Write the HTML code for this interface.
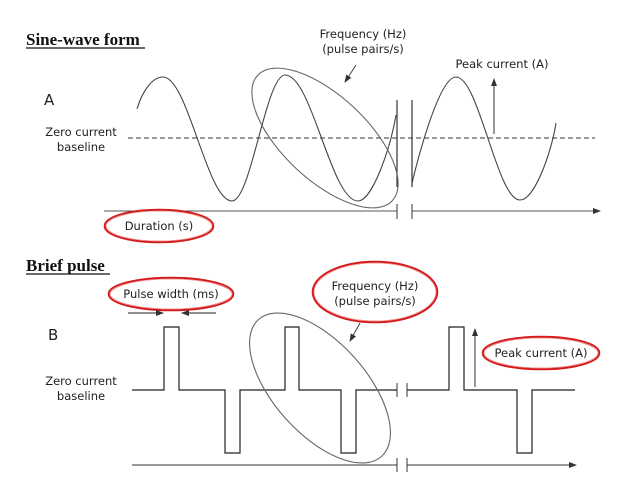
<!DOCTYPE html>
<html><head><meta charset="utf-8"><style>
html,body{margin:0;padding:0;background:#fff;}
svg{display:block;}
.t{font-family:"DejaVu Sans","Liberation Sans",sans-serif;font-size:11.5px;fill:#222;}
.h{font-family:"Liberation Serif",serif;font-weight:bold;font-size:17px;fill:#111;}
.red{fill:none;stroke:#d41a1a;stroke-width:2.6;}
.redi{fill:none;stroke:#f29a9a;stroke-width:0.8;}
</style></head><body>
<svg width="638" height="479" viewBox="0 0 638 479" xmlns="http://www.w3.org/2000/svg">
<defs><marker id="ar" markerWidth="8" markerHeight="6" refX="7" refY="3" orient="auto"><path d="M0,0 L8,3 L0,6 z" fill="#333"/></marker></defs>
<text x="26" y="45" class="h">Sine-wave form</text>
<line x1="26" y1="48" x2="145" y2="48" stroke="#111" stroke-width="1.3"/>
<text x="44" y="105" class="t" style="font-size:15px">A</text>
<text x="81" y="136" class="t" text-anchor="middle">Zero current</text>
<text x="81" y="151" class="t" text-anchor="middle">baseline</text>
<line x1="128" y1="138" x2="595" y2="138" stroke="#333" stroke-width="1" stroke-dasharray="5,3"/>
<path d="M137,109 C142,92 152,77 163,77 C188,77 207,201 232,201 C251,201 266,75 285,75 C312,75 331,201 358,201 C372,201 390,150 396,115" fill="none" stroke="#444" stroke-width="1.1"/>
<path d="M412,183 C420,150 440,77 456,77 C479,77 497,200 520,200 C535,200 552,150 556,123" fill="none" stroke="#444" stroke-width="1.1"/>
<line x1="397" y1="100" x2="397" y2="187" stroke="#333" stroke-width="1.2"/>
<line x1="412" y1="100" x2="412" y2="187" stroke="#333" stroke-width="1.2"/>
<ellipse cx="325" cy="138" rx="92" ry="42" transform="rotate(43 325 138)" fill="none" stroke="#666" stroke-width="1.1"/>
<text x="363" y="38" class="t" text-anchor="middle">Frequency (Hz)</text>
<text x="363" y="53" class="t" text-anchor="middle">(pulse pairs/s)</text>
<line x1="356" y1="65" x2="345" y2="82" stroke="#444" stroke-width="1" marker-end="url(#ar)"/>
<text x="502" y="68" class="t" text-anchor="middle">Peak current (A)</text>
<line x1="494" y1="134" x2="494" y2="79" stroke="#333" stroke-width="1" marker-end="url(#ar)"/>
<line x1="104" y1="211" x2="397" y2="211" stroke="#555" stroke-width="1"/>
<line x1="412" y1="211" x2="600" y2="211" stroke="#555" stroke-width="1" marker-end="url(#ar)"/>
<line x1="397" y1="204" x2="397" y2="219" stroke="#333" stroke-width="1"/>
<line x1="412" y1="204" x2="412" y2="219" stroke="#333" stroke-width="1"/>
<ellipse cx="159" cy="226" rx="54" ry="16" class="red"/><ellipse cx="159" cy="226" rx="53" ry="15" class="redi"/>
<text x="159" y="230" class="t" text-anchor="middle">Duration (s)</text>

<text x="26" y="271" class="h">Brief pulse</text>
<line x1="26" y1="274" x2="110" y2="274" stroke="#111" stroke-width="1.3"/>
<text x="48" y="340" class="t" style="font-size:15px">B</text>
<text x="81" y="385" class="t" text-anchor="middle">Zero current</text>
<text x="81" y="400" class="t" text-anchor="middle">baseline</text>
<path d="M132,390 H164 V327 H179 V390 H225 V453 H240 V390 H285 V327 H299 V390 H341 V453 H356 V390 H397" fill="none" stroke="#222" stroke-width="1.2"/>
<path d="M407,390 H449 V327 H464 V390 H517 V453 H532 V390 H575" fill="none" stroke="#222" stroke-width="1.2"/>
<line x1="397" y1="383" x2="397" y2="397" stroke="#333" stroke-width="1"/>
<line x1="407" y1="383" x2="407" y2="397" stroke="#333" stroke-width="1"/>
<line x1="132" y1="465" x2="397" y2="465" stroke="#333" stroke-width="1"/>
<line x1="407" y1="465" x2="576" y2="465" stroke="#333" stroke-width="1" marker-end="url(#ar)"/>
<line x1="397" y1="458" x2="397" y2="472" stroke="#333" stroke-width="1"/>
<line x1="407" y1="458" x2="407" y2="472" stroke="#333" stroke-width="1"/>
<ellipse cx="320" cy="388" rx="92" ry="46" transform="rotate(48 320 388)" fill="none" stroke="#666" stroke-width="1.1"/>
<ellipse cx="171" cy="294" rx="62" ry="16" class="red"/><ellipse cx="171" cy="294" rx="61" ry="15" class="redi"/>
<text x="171" y="298" class="t" text-anchor="middle">Pulse width (ms)</text>
<line x1="128" y1="313" x2="163" y2="313" stroke="#222" stroke-width="1" marker-end="url(#ar)"/>
<line x1="216" y1="313" x2="182" y2="313" stroke="#222" stroke-width="1" marker-end="url(#ar)"/>
<ellipse cx="375" cy="292" rx="62" ry="30" class="red"/><ellipse cx="375" cy="292" rx="61" ry="29" class="redi"/>
<text x="375" y="290" class="t" text-anchor="middle">Frequency (Hz)</text>
<text x="375" y="305" class="t" text-anchor="middle">(pulse pairs/s)</text>
<line x1="360" y1="323" x2="350" y2="341" stroke="#444" stroke-width="1" marker-end="url(#ar)"/>
<line x1="475" y1="387" x2="475" y2="329" stroke="#333" stroke-width="1" marker-end="url(#ar)"/>
<ellipse cx="541" cy="353" rx="58" ry="16" class="red"/><ellipse cx="541" cy="353" rx="57" ry="15" class="redi"/>
<text x="541" y="357" class="t" text-anchor="middle">Peak current (A)</text>
</svg>
</body></html>
